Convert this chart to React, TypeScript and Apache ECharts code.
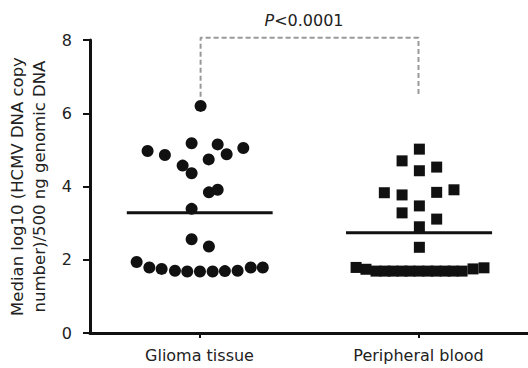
import React, { useEffect, useRef } from "react";
import * as echarts from "echarts";

const categories = ["Glioma tissue", "Peripheral blood"];
const yTicks = [0, 2, 4, 6, 8];

// Glioma tissue: x position (jittered within category, axis 0..2) and value
const gliomaX = [0.505, 0.263, 0.342, 0.464, 0.583, 0.624, 0.7, 0.542, 0.423, 0.464, 0.543, 0.583, 0.464, 0.464, 0.543,
  0.213, 0.271, 0.327, 0.388, 0.444, 0.502, 0.56, 0.616, 0.674, 0.734, 0.789];
const gliomaY = [6.2, 4.97, 4.86, 5.18, 5.15, 4.88, 5.05, 4.74, 4.57, 4.36, 3.84, 3.91, 3.39, 2.56, 2.36,
  1.94, 1.79, 1.75, 1.7, 1.68, 1.68, 1.68, 1.69, 1.7, 1.79, 1.79];

// Peripheral blood
const bloodX = [1.504, 1.425, 1.504, 1.583, 1.344, 1.425, 1.583, 1.662, 1.425, 1.504, 1.583, 1.504, 1.504,
  1.215, 1.26, 1.306, 1.347, 1.384, 1.425, 1.461, 1.502, 1.543, 1.58, 1.621, 1.658, 1.699, 1.749, 1.799];
const bloodY = [5.02, 4.7, 4.43, 4.53, 3.83, 3.77, 3.84, 3.91, 3.28, 3.47, 3.11, 2.9, 2.34,
  1.79, 1.74, 1.69, 1.69, 1.69, 1.69, 1.69, 1.69, 1.69, 1.69, 1.69, 1.69, 1.69, 1.75, 1.78];

// Median lines
const gliomaMedian = 3.28;
const bloodMedian = 2.74;
const gliomaMedianSpan = [0.168, 0.834];
const bloodMedianSpan = [1.169, 1.836];

// Significance bracket
const bracketX = [0.505, 0.505, 1.5, 1.5];
const bracketY = [6.45, 8.06, 8.06, 6.45];
const pLabel = "<0.0001";

const FONT = "DejaVu Sans, Liberation Sans, Arial, sans-serif";

export default function App() {
  const ref = useRef<HTMLDivElement>(null);
  useEffect(() => {
    if (!ref.current) return;
    const chart = echarts.init(ref.current, undefined, { renderer: "svg" });
    const option: any = {
      animation: false,
      backgroundColor: "#fff",
      textStyle: { fontFamily: FONT },
      grid: { left: 90, right: 0, top: 40, bottom: 35, containLabel: false, outerBoundsMode: "none" },
      xAxis: [
        {
          type: "category",
          data: categories,
          axisLine: { show: true, lineStyle: { color: "#111", width: 3 } },
          axisTick: { show: true, alignWithLabel: true, length: 5, lineStyle: { color: "#111", width: 2 } },
          axisLabel: { color: "#222", fontSize: 16, fontFamily: FONT, margin: 14 },
          splitLine: { show: false },
        },
        {
          type: "value",
          min: 0,
          max: 2,
          show: false,
        },
      ],
      yAxis: {
        type: "value",
        min: 0,
        max: 8,
        interval: 2,
        name: "Median log10 (HCMV DNA copy\nnumber)/500 ng genomic DNA",
        nameLocation: "middle",
        nameRotate: 90,
        nameGap: 38,
        nameTextStyle: { color: "#222", fontSize: 16.5, fontFamily: FONT, lineHeight: 22 },
        axisLine: { show: true, lineStyle: { color: "#111", width: 3 } },
        axisTick: { show: true, length: 7, lineStyle: { color: "#111", width: 2 } },
        axisLabel: {
          color: "#222",
          fontSize: 16,
          fontFamily: FONT,
          margin: 18,
          formatter: (v: number) => (yTicks.includes(v) ? String(v) : ""),
        },
        splitLine: { show: false },
      },
      series: [
        {
          type: "scatter",
          xAxisIndex: 1,
          symbol: "circle",
          symbolSize: 12,
          itemStyle: { color: "#111", opacity: 1 },
          data: gliomaX.map((x, i) => [x, gliomaY[i]]),
        },
        {
          type: "scatter",
          xAxisIndex: 1,
          symbol: "rect",
          symbolSize: 11,
          itemStyle: { color: "#111", opacity: 1 },
          data: bloodX.map((x, i) => [x, bloodY[i]]),
        },
        {
          type: "line",
          xAxisIndex: 1,
          symbol: "none",
          lineStyle: { color: "#111", width: 3 },
          data: gliomaMedianSpan.map((x) => [x, gliomaMedian]),
        },
        {
          type: "line",
          xAxisIndex: 1,
          symbol: "none",
          lineStyle: { color: "#111", width: 3 },
          data: bloodMedianSpan.map((x) => [x, bloodMedian]),
        },
        {
          type: "line",
          xAxisIndex: 1,
          symbol: "none",
          clip: false,
          lineStyle: { color: "#999", width: 2, type: [5, 3] },
          data: bracketX.map((x, i) => [x, bracketY[i]]),
        },
      ],
      graphic: [
        {
          type: "text",
          x: 304,
          y: 20,
          style: {
            text: "{i|P}{n|" + pLabel + "}",
            align: "center",
            verticalAlign: "middle",
            rich: {
              i: { fontSize: 16, fontStyle: "italic", fontFamily: FONT, fill: "#222" },
              n: { fontSize: 16, fontFamily: FONT, fill: "#222" },
            },
          },
        },
      ],
    };
    chart.setOption(option);
    return () => chart.dispose();
  }, []);
  return <div ref={ref} style={{ width: 528, height: 368, position: "absolute", left: 0, top: 0 }} />;
}
